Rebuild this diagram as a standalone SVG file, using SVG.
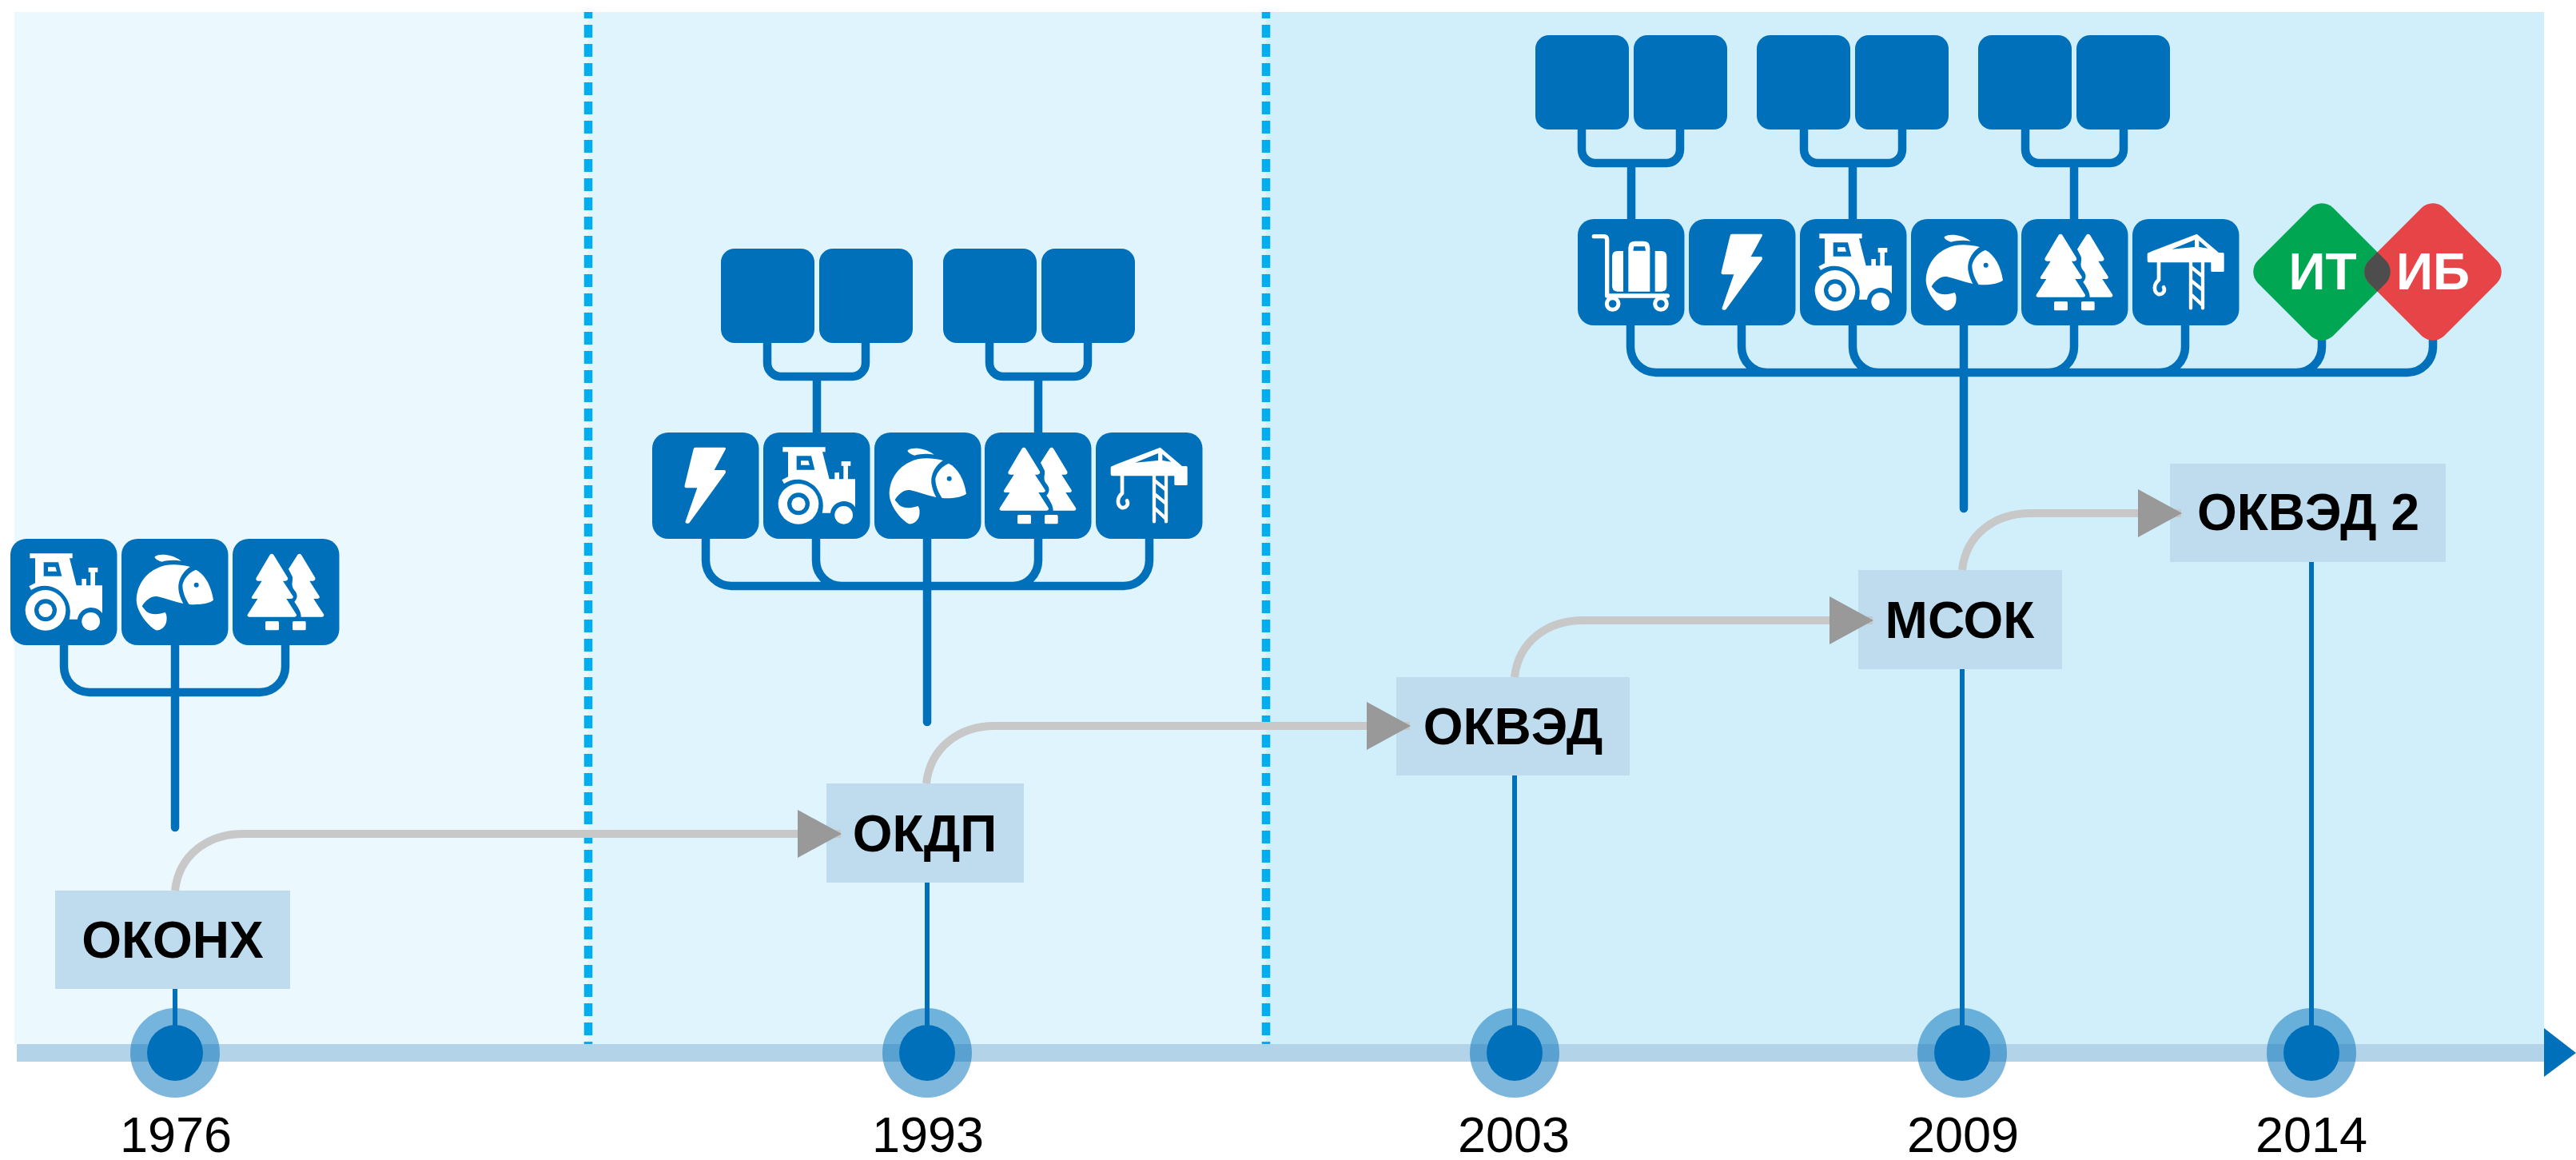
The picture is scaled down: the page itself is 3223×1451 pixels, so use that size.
<svg xmlns="http://www.w3.org/2000/svg" width="3223" height="1451" viewBox="0 0 3223 1451">
<style>
.b{fill:#0070ba}
.w{fill:#fff}
.cn{fill:none;stroke:#0070ba;stroke-width:10.5}
.cr{fill:none;stroke:#0070ba;stroke-width:10.5;stroke-linecap:round}
.th{fill:none;stroke:#0070ba;stroke-width:6}
.g{fill:none;stroke:#c8c8c8;stroke-width:10}
.lab{fill:#bfdbee}
.t{font-family:"Liberation Sans",Arial,sans-serif;font-weight:700;font-size:64px;text-anchor:middle;fill:#000}
.y{font-family:"Liberation Sans",Arial,sans-serif;font-size:63px;text-anchor:middle;fill:#000}
.dw{font-family:"Liberation Sans",Arial,sans-serif;font-weight:700;font-size:64px;text-anchor:middle;fill:#fff}
.o{fill:#0070ba;opacity:.5}
.d{stroke:#00aeef;stroke-width:10.500;stroke-dasharray:16 8;stroke-dashoffset:8;fill:none}
</style>
<defs>
<marker id="ah" markerUnits="userSpaceOnUse" markerWidth="56" markerHeight="62" refX="54" refY="31" orient="auto"><path d="M0 1L55 31L0 61Z" fill="#999"/></marker>
<g id="tractor"><rect class="b" width="133.500" height="133" rx="20" transform="scale(3)" /><g transform="translate(-40,-102)"><path class="w" fill-rule="evenodd" d="M113 157H273V175H262L288 277H308V252H325V277H341V227H333V210H368V227H358V277H385V382C375 365 355 360 340 360C315 362 295 380 292 404H261C268 375 265 345 245 318C225 290 195 278 170 278C150 278 135 283 118 294L110 280L133 268V175H113ZM165 190H220L233 242H165Z"/><path class="w" d="M181 208H209L214 224H181Z"/><circle class="w" cx="172" cy="370" r="76"/><circle class="b" cx="172" cy="370" r="42"/><circle class="w" cx="172" cy="370" r="26"/><circle class="w" cx="342" cy="412" r="34"/></g></g>
<g id="fish"><rect class="b" width="133.500" height="133" rx="20" transform="scale(3)"/><g transform="translate(-456,-102)"><path class="w" d="M580 170C590 158 640 155 680 185C650 180 630 182 607 188C595 185 585 180 580 170Z"/><path class="w" d="M714 207C670 195 620 195 590 212C550 230 515 270 512 330C512 370 545 420 585 445C600 447 622 435 625 410C627 395 625 385 620 378C600 385 570 390 550 375C543 368 537 360 533 355C545 335 565 315 590 318C620 325 655 338 688 345C675 320 665 290 672 265C678 240 695 218 714 207Z"/><path class="w" d="M735 218C770 235 793 280 801 332C780 347 745 350 710 348C695 325 685 300 685 275C690 250 710 228 735 218Z"/><circle class="b" cx="737" cy="275" r="9"/></g></g>
<g id="trees"><rect class="b" width="133.500" height="133" rx="20" transform="scale(3)"/><g transform="translate(-873,-102)"><path class="w" d="M1013 162Q1020 154 1027 162L1080 248Q1083 258 1072 260H1062L1100 318Q1103 326 1092 327H1075L1112 385Q1116 394 1106 395H935Q925 394 930 385L967 327H950Q941 326 946 318L983 260H970Q958 258 962 248Z"/><path class="w" d="M1117 162Q1124 154 1131 162L1183 248Q1186 258 1175 260H1162L1199 318Q1202 326 1191 327H1177L1215 385Q1219 394 1209 395H1130C1130 375 1118 358 1105 338C1118 325 1118 310 1105 295C1090 275 1100 265 1098 245L1083 215Z"/><rect class="w" x="996" y="411" width="51" height="34" rx="5"/><rect class="w" x="1098" y="411" width="50" height="34" rx="5"/></g></g>
<g id="bolt"><rect class="b" width="133.500" height="133" rx="20" transform="scale(3)"/><path class="w" d="M162 56H272Q278 56 275 64L233 141H270Q278 141 275 152L140 338Q130 346 124 336L169 208H127Q120 206 122 198L155 62Q156 56 162 56Z"/></g>
<g id="crane"><rect class="b" width="133.500" height="133" rx="20" transform="scale(3)"/><path class="w" fill-rule="evenodd" d="M242 56L324 126H340Q344 126 344 132V194Q344 198 340 198H300Q295 198 295 194V163H62Q56 163 56 157V132Q56 126 62 126L75 120ZM234 78L148 113L234 105ZM250 81V105L283 110Z"/><path fill="none" stroke="#fff" stroke-width="14" stroke-linecap="round" d="M99 163V228C80 245 78 272 97 282C115 285 125 268 117 256"/><path fill="none" stroke="#fff" stroke-width="13" stroke-linecap="round" d="M219 163V334M264 163V334M222 181L262 214M222 232L262 265M222 285L262 322"/></g>
<g id="luggage"><rect class="b" width="133.500" height="133" rx="20" transform="scale(3)"/><path fill="none" stroke="#fff" stroke-width="16" stroke-linecap="round" stroke-linejoin="round" d="M61 65H98Q110 65 110 78V288H337"/><circle cx="131" cy="318" r="22" fill="none" stroke="#fff" stroke-width="15"/><circle cx="312" cy="318" r="22" fill="none" stroke="#fff" stroke-width="15"/><path class="w" d="M171 120V272H149Q129 272 129 250V142Q129 120 149 120Z"/><path class="w" fill-rule="evenodd" d="M190 272V108Q190 83 215 83H246Q271 83 271 108V272ZM208 119H255L252 103H211Z"/><path class="w" d="M290 120V272H314Q334 272 334 250V142Q334 120 314 120Z"/></g>
<rect id="bx" class="b" width="117" height="118" rx="17"/>
<rect id="dm" width="133" height="133" rx="20" x="-66.500" y="-66.500" transform="rotate(45)"/>
<clipPath id="ovl"><use href="#dm" x="2905" y="340"/></clipPath>
</defs>

<g id="zones">
<rect x="18" y="15" width="718" height="1291" fill="#ebf8fe"/>
<rect x="736" y="15" width="848" height="1291" fill="#dff4fc"/>
<rect x="1584" y="15" width="1599" height="1291" fill="#d0effb"/>
<path class="d" d="M736 15V1306M1584 15V1306"/>
<rect x="21" y="1306" width="3162" height="22" fill="#b3d3e8"/>
<path class="b" d="M3183 1286L3223 1317L3183 1347Z"/>
</g>

<g id="icons-1976">
<use href="#tractor" transform="translate(13,674) scale(.3333)"/>
<use href="#fish" transform="translate(152,674) scale(.3333)"/>
<use href="#trees" transform="translate(291,674) scale(.3333)"/>
</g>
<g id="icons-1993">
<use href="#bolt" transform="translate(816,541) scale(.3333)"/>
<use href="#tractor" transform="translate(955,541) scale(.3333)"/>
<use href="#fish" transform="translate(1094,541) scale(.3333)"/>
<use href="#trees" transform="translate(1232,541) scale(.3333)"/>
<use href="#crane" transform="translate(1371,541) scale(.3333)"/>
<use href="#bx" x="902" y="311"/><use href="#bx" x="1025" y="311"/><use href="#bx" x="1180" y="311"/><use href="#bx" x="1303" y="311"/>
</g>
<g id="icons-2009">
<use href="#luggage" transform="translate(1974,274) scale(.3333)"/>
<use href="#bolt" transform="translate(2113,274) scale(.3333)"/>
<use href="#tractor" transform="translate(2252,274) scale(.3333)"/>
<use href="#fish" transform="translate(2391,274) scale(.3333)"/>
<use href="#trees" transform="translate(2529,274) scale(.3333)"/>
<use href="#crane" transform="translate(2668,274) scale(.3333)"/>
<use href="#bx" x="1921" y="44"/><use href="#bx" x="2044" y="44"/><use href="#bx" x="2198" y="44"/><use href="#bx" x="2321" y="44"/><use href="#bx" x="2475" y="44"/><use href="#bx" x="2598" y="44"/>
</g>

<g id="node-okonh"><rect class="lab" x="69" y="1114" width="294" height="123"/><text class="t" x="216" y="1198">ОКОНХ</text></g>
<g id="node-okdp"><rect class="lab" x="1034" y="980" width="247" height="124"/><text class="t" x="1157" y="1065">ОКДП</text></g>
<g id="node-okved"><rect class="lab" x="1747" y="847" width="292" height="123"/><text class="t" x="1893" y="931">ОКВЭД</text></g>
<g id="node-msok"><rect class="lab" x="2325" y="713" width="255" height="124"/><text class="t" x="2452" y="798">МСОК</text></g>
<g id="node-okved2"><rect class="lab" x="2715" y="580" width="345" height="123"/><text class="t" x="2888" y="663">ОКВЭД 2</text></g>

<g id="year-1976"><circle class="o" cx="219" cy="1317" r="56"/><circle class="b" cx="219" cy="1317" r="35"/><text class="y" x="220" y="1441">1976</text></g>
<g id="year-1993"><circle class="o" cx="1160" cy="1317" r="56"/><circle class="b" cx="1160" cy="1317" r="35"/><text class="y" x="1161" y="1441">1993</text></g>
<g id="year-2003"><circle class="o" cx="1895" cy="1317" r="56"/><circle class="b" cx="1895" cy="1317" r="35"/><text class="y" x="1894" y="1441">2003</text></g>
<g id="year-2009"><circle class="o" cx="2455" cy="1317" r="56"/><circle class="b" cx="2455" cy="1317" r="35"/><text class="y" x="2456" y="1441">2009</text></g>
<g id="year-2014"><circle class="o" cx="2892" cy="1317" r="56"/><circle class="b" cx="2892" cy="1317" r="35"/><text class="y" x="2892" y="1441">2014</text></g>

<g id="connectors">
<path class="th" d="M219 1237V1290M1160 1104V1290M1895 970V1290M2455 837V1290M2892 703V1290"/>
<path class="g" marker-end="url(#ah)" d="M219 1114C224 1069 260 1043 305 1043H1052"/>
<path class="g" marker-end="url(#ah)" d="M1159 980C1164 935 1200 908 1245 908H1764"/>
<path class="g" marker-end="url(#ah)" d="M1895 847C1900 802 1936 776 1981 776H2343"/>
<path class="g" marker-end="url(#ah)" d="M2455 713C2460 668 2496 642 2541 642H2729"/>
<path class="cn" d="M80 807V834A32 32 0 0 0 112 866H325A32 32 0 0 0 357 834V807"/><path class="cr" d="M219 807V1035"/>
<path class="cn" d="M883 674V701A32 32 0 0 0 915 733H1406A32 32 0 0 0 1438 701V674M1021 674V701A32 32 0 0 0 1053 733M1299 674V701A32 32 0 0 1 1267 733"/><path class="cr" d="M1160 674V903"/>
<path class="cn" d="M960 429V454A17 17 0 0 0 977 471H1066A17 17 0 0 0 1083 454V429M1022 471V541M1238 429V454A17 17 0 0 0 1255 471H1344A17 17 0 0 0 1361 454V429M1299 471V541"/>
<path class="cn" d="M2040 407V434A32 32 0 0 0 2072 466H3012A32 32 0 0 0 3044 434V407M2179 407V434A32 32 0 0 0 2211 466M2318 407V434A32 32 0 0 0 2350 466M2595 407V434A32 32 0 0 1 2563 466M2734 407V434A32 32 0 0 1 2702 466M2905 407V434A32 32 0 0 1 2873 466"/><path class="cr" d="M2457 407V636"/>
<path class="cn" d="M1979 162V187A17 17 0 0 0 1996 204H2085A17 17 0 0 0 2102 187V162M2041 204V274M2257 162V187A17 17 0 0 0 2274 204H2363A17 17 0 0 0 2380 187V162M2318 204V274M2534 162V187A17 17 0 0 0 2551 204H2640A17 17 0 0 0 2657 187V162M2595 204V274"/>
</g>

<g id="node-it"><use href="#dm" x="2905" y="340" fill="#00a651"/><text class="dw" x="2906" y="362">ИТ</text></g>
<g id="node-ib"><use href="#dm" x="3044" y="340" fill="#e64446"/><g clip-path="url(#ovl)"><use href="#dm" x="3044" y="340" fill="#4d4d4d"/></g><text class="dw" x="3044" y="362">ИБ</text></g>
</svg>
